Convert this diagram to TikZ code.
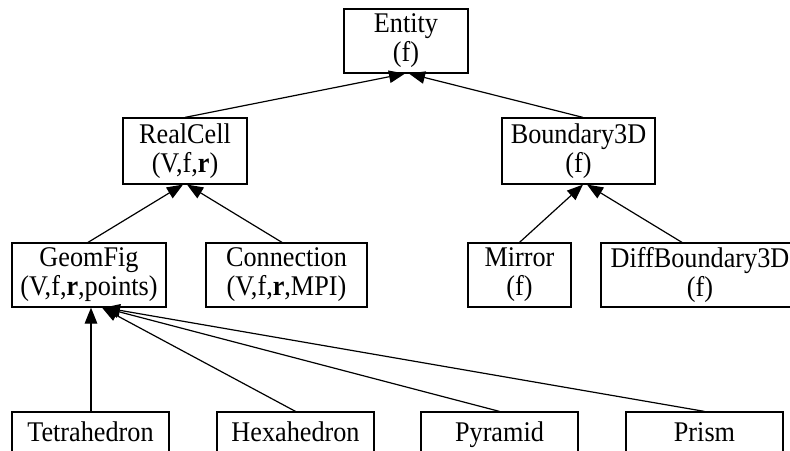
\documentclass[tikz,border=0pt]{standalone}
\usepackage{fontspec}
\setmainfont[FakeStretch=0.92]{Liberation Serif}
\usetikzlibrary{arrows.meta}
\begin{document}
\begin{tikzpicture}[x=1pt,y=-1pt,
  box/.style={draw,line width=1.2pt,inner sep=0pt,align=center,
    font=\fontsize{28.5}{29}\selectfont,minimum height=64pt},
  single/.style={box,minimum width=157pt,minimum height=44pt,text height=20pt,text depth=6pt},
  link/.style={line width=1.2pt,-{Triangle[length=16pt,width=12.5pt]}}]
\path[use as bounding box,clip] (0,0) rectangle (790,450);
\node[box,minimum width=124pt] (entity) at (406,41) {Entity\\(f)};
\node[box,minimum width=124pt,minimum height=66pt] (realcell) at (185,151) {RealCell\\(V,f,\textbf{r})};
\node[box,minimum width=153pt,minimum height=66pt] (boundary) at (578.5,151) {Boundary3D\\(f)};
\node[box,minimum width=154pt] (geomfig) at (89,275) {GeomFig\\(V,f,\textbf{r},points)};
\node[box,minimum width=161pt] (connection) at (286.5,275) {Connection\\(V,f,\textbf{r},MPI)};
\node[box,minimum width=103pt] (mirror) at (519.5,275) {Mirror\\(f)};
\node[box,minimum width=198pt] (diff) at (700,275) {DiffBoundary3D\\(f)};
\node[single] (tetra) at (90.5,434) {Tetrahedron};
\node[single] (hexa) at (295.5,434) {Hexahedron};
\node[single] (pyramid) at (499.5,434) {Pyramid};
\node[single] (prism) at (704.5,434) {Prism};
\draw[link] (realcell.north) -- ([xshift=-1pt]entity.south);
\draw[link] ([xshift=4.5pt]boundary.north) -- ([xshift=3pt]entity.south);
\draw[link] ([xshift=-1pt]geomfig.north) -- ([xshift=-2pt]realcell.south);
\draw[link] ([xshift=-4.5pt]connection.north) -- ([xshift=2pt]realcell.south);
\draw[link] (mirror.north) -- ([xshift=4.5pt]boundary.south);
\draw[link] ([xshift=-18pt]diff.north) -- ([xshift=8.5pt]boundary.south);
\draw[link] ([xshift=0.5pt]tetra.north) -- ([xshift=2pt]geomfig.south);
\draw[link] (hexa.north) -- ([xshift=13pt]geomfig.south);
\draw[link] (pyramid.north) -- ([xshift=14pt]geomfig.south);
\draw[link] (prism.north) -- ([xshift=15pt]geomfig.south);
\end{tikzpicture}
\end{document}
